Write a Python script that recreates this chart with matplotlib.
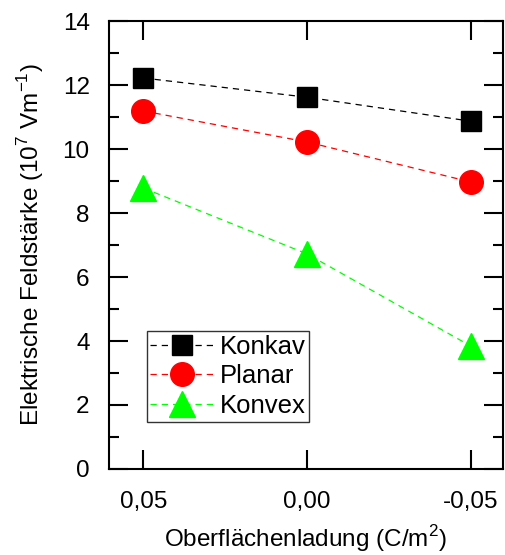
import matplotlib.pyplot as plt
from matplotlib.ticker import FixedLocator, MultipleLocator

plt.rcParams['font.family'] = ['Liberation Sans', 'DejaVu Sans']
plt.rcParams['mathtext.fontset'] = 'custom'
plt.rcParams['mathtext.rm'] = 'Liberation Sans'

# Oberflächenladung in C/m^2
ladung = [0.05, 0.00, -0.05]
ladung_labels = ['0,05', '0,00', '-0,05']

# Feldstärke in 10^7 V/m
konkav = [12.22, 11.62, 10.87]
planar = [11.19, 10.22, 8.97]
konvex = [8.78, 6.72, 3.84]

fig = plt.figure(figsize=(5.05, 5.55), dpi=100)
ax = fig.add_axes([0.216, 0.155, 0.78, 0.807])

ax.plot(ladung, konkav, 'k--', marker='s', ms=14.5, lw=0.9, dashes=(5, 4), label='Konkav')
ax.plot(ladung, planar, '--', color='red', marker='o', ms=17, lw=0.9, dashes=(5, 4), label='Planar')
ax.plot(ladung, konvex, '--', color='#00ff00', marker='^', ms=19, lw=0.9, dashes=(5, 4), label='Konvex')

ax.set_xlim(0.0605, -0.0598)
ax.set_ylim(0, 14)
ax.xaxis.set_major_locator(FixedLocator(ladung))
ax.set_xticklabels(ladung_labels)
ax.yaxis.set_major_locator(MultipleLocator(2))
ax.yaxis.set_minor_locator(MultipleLocator(1))

ax.tick_params(which='both', direction='in', top=True, right=True, width=1.5, labelsize=17.5)
ax.tick_params(which='major', length=14)
ax.tick_params(which='minor', length=7)
ax.tick_params(axis='x', pad=16)
ax.tick_params(axis='y', pad=14)
for s in ax.spines.values():
    s.set_linewidth(1.5)

ax.set_xlabel('Oberflächenladung (C/m$^2$)', fontsize=17.5, labelpad=7)
ax.set_ylabel('Elektrische Feldstärke (10$^7$ Vm$^{-1}$)', fontsize=17.5, labelpad=12)

leg = ax.legend(loc='lower left', bbox_to_anchor=(0.095, 0.105), fontsize=18.5,
                frameon=True, fancybox=False, edgecolor='black', handlelength=2.5,
                borderpad=0.15, labelspacing=0.22, handletextpad=0.2, borderaxespad=0)
leg.get_frame().set_linewidth(1.0)

fig.savefig('out.png', dpi=100)
